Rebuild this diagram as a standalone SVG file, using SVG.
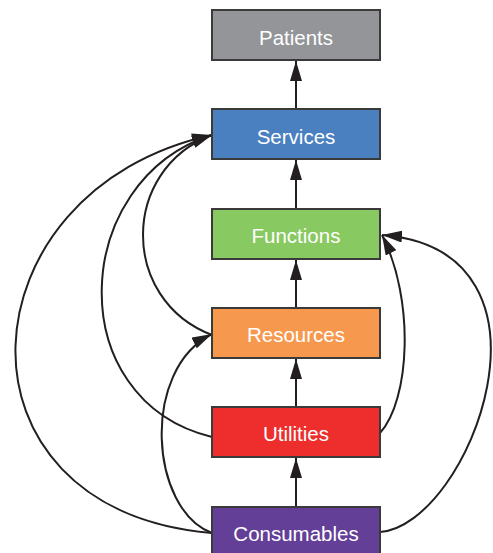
<svg xmlns="http://www.w3.org/2000/svg" width="493" height="553" viewBox="0 0 493 553">
<style>
.box{stroke:#3a3a3a;stroke-width:2}
.lbl{font-family:"Liberation Sans",Arial,sans-serif;font-size:20.5px;fill:#ffffff;text-anchor:middle}
.edge{fill:none;stroke:#231f20;stroke-width:2}
</style>
<defs>
<marker id="ah" markerUnits="userSpaceOnUse" markerWidth="20" markerHeight="12" refX="20" refY="6" orient="auto">
<path d="M0,0 L20,6 L0,12 z" fill="#231f20"/>
</marker>
</defs>
<rect width="493" height="553" fill="#ffffff"/>
<g id="connectors">
<path class="edge" d="M296,109 L296,61" marker-end="url(#ah)"/>
<path class="edge" d="M296,209 L296,160" marker-end="url(#ah)"/>
<path class="edge" d="M296,308 L296,260" marker-end="url(#ah)"/>
<path class="edge" d="M296,407 L296,359" marker-end="url(#ah)"/>
<path class="edge" d="M296,507 L296,458" marker-end="url(#ah)"/>
<path class="edge" d="M212,533 C -60,510 -40,190 212,135" marker-end="url(#ah)"/>
<path class="edge" d="M212,437 C 60,400 70,180 212,135" marker-end="url(#ah)"/>
<path class="edge" d="M212,335 C 120,300 120,170 212,135" marker-end="url(#ah)"/>
<path class="edge" d="M212,533 C 150,510 140,370 212,334" marker-end="url(#ah)"/>
<path class="edge" d="M380,433 C 410,400 415,300 382,235" marker-end="url(#ah)"/>
<path class="edge" d="M380,532 C 470,525 575,250 382,235" marker-end="url(#ah)"/>
</g>
<g id="patients"><rect class="box" x="212" y="10" width="168" height="50" fill="#939598"/><text class="lbl" x="296" y="45">Patients</text></g>
<g id="services"><rect class="box" x="212" y="109" width="168" height="50" fill="#4a7fc0"/><text class="lbl" x="296" y="144">Services</text></g>
<g id="functions"><rect class="box" x="212" y="209" width="168" height="50" fill="#89c961"/><text class="lbl" x="296" y="243">Functions</text></g>
<g id="resources"><rect class="box" x="212" y="308" width="168" height="50" fill="#f6994f"/><text class="lbl" x="296" y="342">Resources</text></g>
<g id="utilities"><rect class="box" x="212" y="407" width="168" height="50" fill="#ed2e2c"/><text class="lbl" x="296" y="441">Utilities</text></g>
<g id="consumables"><rect class="box" x="212" y="507" width="168" height="50" fill="#643f97"/><text class="lbl" x="296" y="541">Consumables</text></g>
</svg>
